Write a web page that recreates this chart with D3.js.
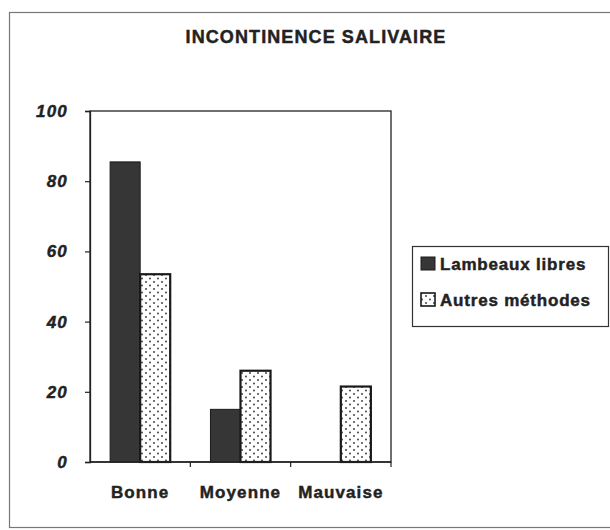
<!DOCTYPE html>
<html>
<head>
<meta charset="utf-8">
<script src="https://cdn.jsdelivr.net/npm/d3@7"></script>
<style>
  html, body { margin: 0; padding: 0; background: #fff; }
  svg { display: block; font-family: Arial, "Liberation Sans", sans-serif; }
  svg text { stroke: #222; stroke-width: 0.45px; paint-order: stroke; }
</style>
</head>
<body>
<div id="chart"></div>
<script>
// Chart data
const title = "INCONTINENCE SALIVAIRE";
const categories = ["Bonne", "Moyenne", "Mauvaise"];
const seriesNames = ["Lambeaux libres", "Autres méthodes"];
const lambeauxLibres = [85.5, 15, 0];
const autresMethodes = [53.5, 26, 21.5];
const yTicks = [0, 20, 40, 60, 80, 100];

const W = 610, H = 530;
const svg = d3.select("#chart").append("svg")
  .attr("width", W).attr("height", H);

// Hatch pattern: sparse staggered dots
const defs = svg.append("defs");
const pat = defs.append("pattern")
  .attr("id", "dots").attr("patternUnits", "userSpaceOnUse")
  .attr("width", 8).attr("height", 7);
pat.append("rect").attr("width", 8).attr("height", 7).attr("fill", "#fff");
pat.append("circle").attr("cx", 2).attr("cy", 2).attr("r", 0.9).attr("fill", "#333");
pat.append("circle").attr("cx", 6).attr("cy", 5.5).attr("r", 0.9).attr("fill", "#333");

// Outer frame
svg.append("rect")
  .attr("x", 9.5).attr("y", 12.5).attr("width", 640).attr("height", 515)
  .attr("fill", "#fff").attr("stroke", "#777").attr("stroke-width", 1.2);

// Title
svg.append("text")
  .attr("x", 316).attr("y", 43)
  .attr("text-anchor", "middle")
  .attr("font-size", 18).attr("font-weight", "bold")
  .attr("letter-spacing", 1.1)
  .attr("fill", "#222")
  .text(title);

const plot = { left: 90, right: 391, top: 111, bottom: 462 };

const x0 = d3.scaleBand().domain(categories)
  .range([plot.left, plot.right]).paddingInner(0).paddingOuter(0);
const x1 = d3.scaleBand().domain(seriesNames)
  .range([0, x0.bandwidth()]).paddingInner(0).paddingOuter(0.67);
const y = d3.scaleLinear().domain([0, 100]).range([plot.bottom, plot.top]);

// Plot area box
svg.append("rect")
  .attr("x", plot.left).attr("y", plot.top)
  .attr("width", plot.right - plot.left).attr("height", plot.bottom - plot.top)
  .attr("fill", "none").attr("stroke", "#222").attr("stroke-width", 1.3);

// Bars
const seriesValues = [lambeauxLibres, autresMethodes];
const fills = ["#363636", "url(#dots)"];
const strokeW = [1, 2.2];
seriesNames.forEach((name, si) => {
  svg.append("g").selectAll("rect")
    .data(categories.map((c, i) => ({ c, v: seriesValues[si][i] })).filter(d => d.v > 0))
    .join("rect")
    .attr("x", d => x0(d.c) + x1(name))
    .attr("y", d => y(d.v))
    .attr("width", x1.bandwidth())
    .attr("height", d => y(0) - y(d.v))
    .attr("fill", fills[si])
    .attr("stroke", "#1a1a1a")
    .attr("stroke-width", strokeW[si]);
});

// Y axis
const yAxis = svg.append("g")
  .attr("transform", `translate(${plot.left},0)`)
  .call(d3.axisLeft(y).tickValues(yTicks).tickSize(5).tickPadding(17));
yAxis.select(".domain").attr("stroke", "#222").attr("stroke-width", 1.3);
yAxis.selectAll(".tick line").attr("stroke", "#222").attr("stroke-width", 1.2);
yAxis.selectAll(".tick text")
  .attr("font-size", 17).attr("font-weight", "bold").attr("font-style", "italic")
  .attr("letter-spacing", 1.2).attr("fill", "#222")
  .attr("font-family", "Arial, 'Liberation Sans', sans-serif");

// X axis: ticks at category boundaries
const xAxis = svg.append("g")
  .attr("transform", `translate(0,${plot.bottom})`);
xAxis.append("line")
  .attr("x1", plot.left).attr("x2", plot.right)
  .attr("stroke", "#222").attr("stroke-width", 1.3);
xAxis.selectAll("line.tick")
  .data(categories.slice(1).map(c => x0(c)).concat([plot.right]))
  .join("line").attr("class", "tick")
  .attr("x1", d => d).attr("x2", d => d)
  .attr("y1", 0).attr("y2", 5)
  .attr("stroke", "#222").attr("stroke-width", 1.2);
xAxis.selectAll("text")
  .data(categories)
  .join("text")
  .attr("x", d => x0(d) + x0.bandwidth() / 2)
  .attr("y", 36)
  .attr("text-anchor", "middle")
  .attr("font-size", 17).attr("font-weight", "bold")
  .attr("letter-spacing", 1.1).attr("fill", "#222")
  .text(d => d);

// Legend
const lg = svg.append("g");
lg.append("rect")
  .attr("x", 412.5).attr("y", 246.5).attr("width", 196).attr("height", 80)
  .attr("fill", "#fff").attr("stroke", "#333").attr("stroke-width", 1.2);
seriesNames.forEach((name, i) => {
  const by = 270 + i * 36;
  lg.append("rect")
    .attr("x", 421).attr("y", by - 13).attr("width", 14).attr("height", 13)
    .attr("fill", fills[i]).attr("stroke", "#1a1a1a").attr("stroke-width", i ? 1.6 : 1);
  lg.append("text")
    .attr("x", 440).attr("y", by)
    .attr("font-size", 17).attr("font-weight", "bold")
    .attr("letter-spacing", 0.8).attr("fill", "#222")
    .text(name);
});
</script>
</body>
</html>
